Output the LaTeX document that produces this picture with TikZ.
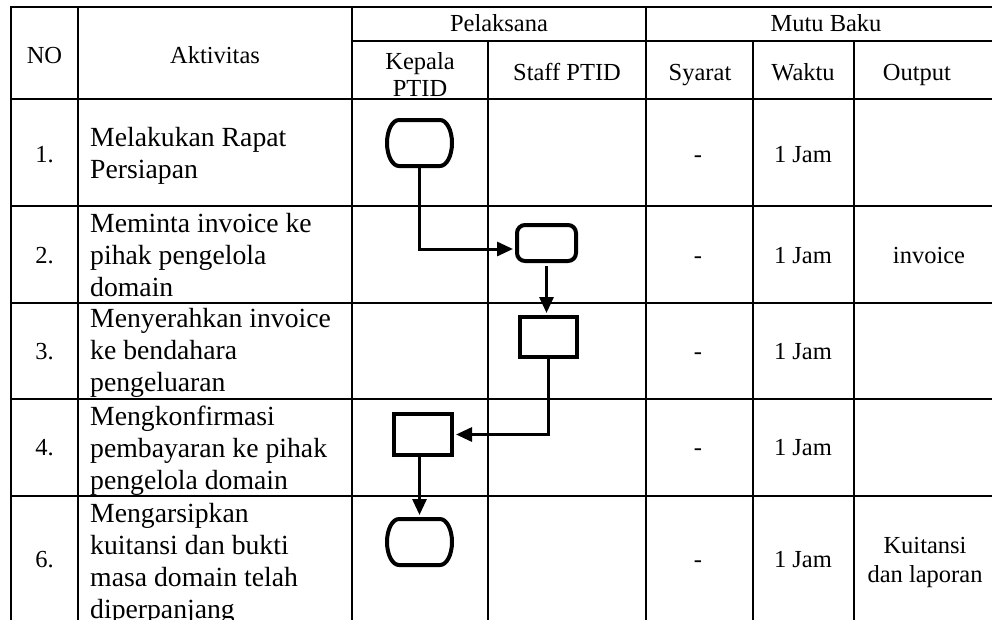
\documentclass[tikz,border=0pt]{standalone}
\usepackage{fontspec}
\setmainfont{Liberation Serif}
\usepackage{tikz}
\usetikzlibrary{arrows.meta}
\tikzstyle{grid}=[line width=1.8pt]
\tikzstyle{cell}=[font=\fontsize{24.5}{29}\selectfont,align=center,inner sep=0pt,anchor=base]
\tikzstyle{aktiv}=[font=\fontsize{27.7}{32}\selectfont,align=left,anchor=north west,inner sep=0pt]

\begin{document}
\begin{tikzpicture}[x=1pt,y=-1pt]
          %% SOP TABEL
          \tikzstyle{terminal}=[line width=4pt,minimum width=61pt,minimum height=46pt]
          \tikzstyle{proses}=[draw,line width=4pt,minimum width=57pt,minimum height=40pt]
          \tikzstyle{alur}=[line width=3pt,-{Triangle[length=16pt,width=14pt]},shorten >=2pt]

          \useasboundingbox (0,0) rectangle (992,619);

          % garis tabel
          \draw[grid] (11,7) rectangle (996,624);
          \foreach \y/\w in {99/1.8, 206/1.8, 303/1.8, 399/1.8, 496/1.2} {
            \draw[line width=\w pt] (11,\y) -- (996,\y);
          }
          \draw[grid] (352,41) -- (996,41);
          \foreach \x in {78,352,646} {
            \draw[grid] (\x,7) -- (\x,624);
          }
          \foreach \x in {488,753,854} {
            \draw[grid] (\x,41) -- (\x,624);
          }

          % kepala tabel
          \node[cell] (no) at (44.5,63) {NO};
          \node[cell] (aktivitas) at (215,63) {Aktivitas};
          \node[cell] (pelaksana) at (499,31) {Pelaksana};
          \node[cell] (mutubaku) at (826,31) {Mutu Baku};
          \node[cell,anchor=center,font=\fontsize{24.5}{27}\selectfont] (kepala) at (420,75) {Kepala\\PTID};
          \node[cell] (staff) at (567,80) {Staff PTID};
          \node[cell] (syarat) at (700,80) {Syarat};
          \node[cell] (waktu) at (803,80) {Waktu};
          \node[cell] (output) at (917,80) {Output};

          % nomor, syarat dan waktu
          \foreach \i/\n/\y in {1/1./162, 2/2./263, 3/3./359, 4/4./455, 5/6./567} {
            \node[cell] (no\i) at (44.5,\y) {\n};
            \node[cell] (syarat\i) at (698,\y) {-};
            \node[cell] (waktu\i) at (803,\y) {1 Jam};
          }

          % aktivitas
          \node[aktiv] (akt1) at (90,127) {Melakukan Rapat\\Persiapan};
          \node[aktiv] (akt2) at (90,213) {Meminta invoice ke\\pihak pengelola\\domain};
          \node[aktiv] (akt3) at (90,308) {Menyerahkan invoice\\ke bendahara\\pengeluaran};
          \node[aktiv] (akt4) at (90,406) {Mengkonfirmasi\\pembayaran ke pihak\\pengelola domain};
          \node[aktiv] (akt5) at (90,503) {Mengarsipkan\\kuitansi dan bukti\\masa domain telah\\diperpanjang};

          % output
          \node[cell] (out2) at (929,263) {invoice};
          \node[cell,anchor=center] (out5) at (925,562) {Kuitansi\\dan laporan};

          % bagan alir
          \node[terminal] (t1) at (419.5,143) {};
          \node[draw,line width=4pt,rounded corners=8pt,minimum width=59pt,minimum height=36pt] (b2) at (546.5,243) {};
          \node[proses] (b3) at (548.5,337) {};
          \node[proses,minimum width=58pt,minimum height=41pt] (b4) at (423,434.5) {};
          \node[terminal] (t5) at (419.5,542) {};

          % sisi terminal melengkung
          \foreach \t in {t1,t5} {
            \draw[line width=4pt] ([xshift=12pt,yshift=-2pt]\t.north west) -- ([xshift=-12pt,yshift=-2pt]\t.north east)
              arc[x radius=12pt,y radius=23pt,start angle=90,end angle=-90]
              -- ([xshift=12pt,yshift=2pt]\t.south west)
              arc[x radius=12pt,y radius=23pt,start angle=270,end angle=90] -- cycle;
          }

          \draw[alur] (t1.south) |- ([yshift=-6pt]b2.west);
          \draw[alur,shorten <=3pt] (b2.south) -- (b2.south |- b3.north);
          \draw[alur] (b3.south) |- (b4.east);
          \draw[alur] (t5.north |- b4.south) -- (t5.north);
        \end{tikzpicture}
\end{document}
